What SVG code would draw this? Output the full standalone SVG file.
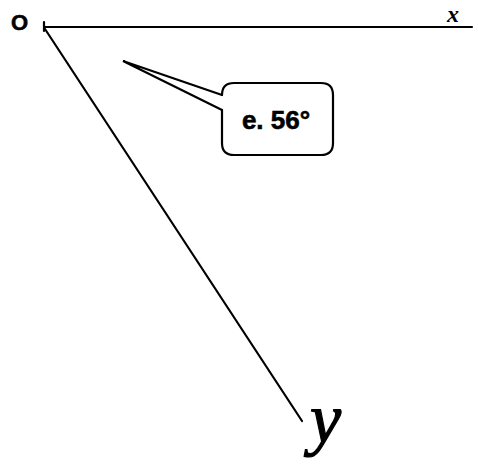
<svg xmlns="http://www.w3.org/2000/svg" width="478" height="468" viewBox="0 0 478 468">
<style>
.ln{stroke:#000;stroke-width:2.2;fill:none;stroke-linecap:round}
.lbl{font-family:"Liberation Sans",Arial,sans-serif;font-weight:bold;fill:#000}
</style>
<rect width="478" height="468" fill="#fff"/>
<g id="axes">
<line class="ln" x1="44" y1="27" x2="472" y2="27"/>
<line class="ln" x1="44" y1="22" x2="44" y2="31"/>
<line class="ln" x1="45" y1="29" x2="302" y2="421"/>
</g>
<g id="label-O"><text class="lbl" x="11" y="30" font-size="22" stroke="#000" stroke-width="0.6">O</text></g>
<g id="label-x"><text x="447" y="22" font-family="'Liberation Serif',serif" font-style="italic" font-weight="bold" font-size="24">x</text></g>
<g id="label-y"><text x="310" y="442" font-family="'Liberation Serif',serif" font-style="italic" font-size="70" stroke="#000" stroke-width="1.2">y</text></g>
<g id="callout">
<path class="ln" d="M222 95 L123 61 L222 110"/>
<path class="ln" d="M234 83 H321 Q333 83 333 95 V143 Q333 155 321 155 H234 Q222 155 222 143 V110 M222 95 Q222 83 234 83" />
<text class="lbl" x="276" y="129" font-size="26" text-anchor="middle" stroke="#000" stroke-width="0.6">e. 56°</text>
</g>
</svg>
